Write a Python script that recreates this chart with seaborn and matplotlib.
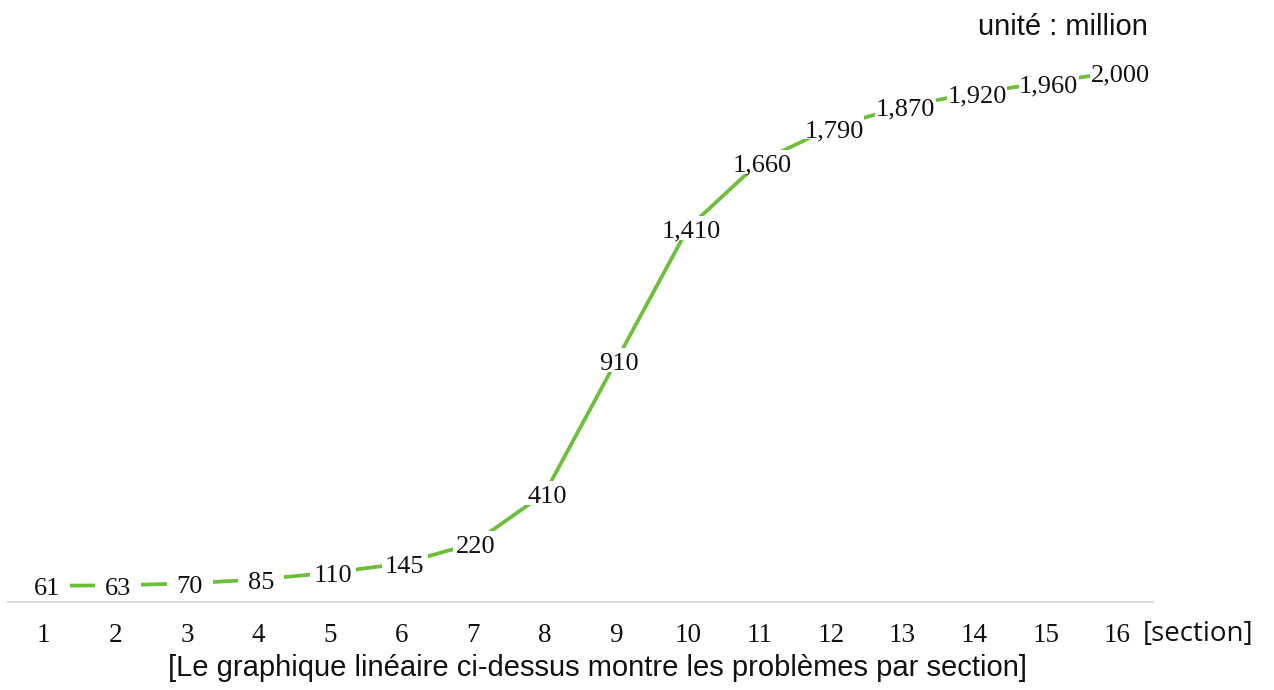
import numpy as np
import pandas as pd
import matplotlib
matplotlib.use("Agg")
import matplotlib.pyplot as plt
import matplotlib.transforms as mtransforms
from matplotlib.patches import Rectangle
import seaborn as sns

# data
sections = list(range(1, 17))
values = [61, 63, 70, 85, 110, 145, 220, 410, 910, 1410, 1660, 1790, 1870, 1920, 1960, 2000]
value_labels = ["61", "63", "70", "85", "110", "145", "220", "410", "910",
                "1,410", "1,660", "1,790", "1,870", "1,920", "1,960", "2,000"]

df = pd.DataFrame({"section": sections, "value": values})

sns.set_theme(style="white")
plt.rcParams['font.family'] = ['Liberation Sans', 'DejaVu Sans']

fig = plt.figure(figsize=(12.74, 6.9), dpi=100)
ax = fig.add_axes([8 / 1274, 1 - 602 / 690, (1153 - 8) / 1274, 0.845])

line_color = "#6CBF38"
sns.lineplot(data=df, x="section", y="value", ax=ax, color=line_color,
             linewidth=2.7, zorder=2)

ax.set_xlim(0.5, 16.5)
ax.set_ylim(0, 2200)

# labels sit a few pixels right of the points, like the original
shifted = mtransforms.offset_copy(ax.transData, fig=fig, x=3, y=-1, units="dots")
texts = []
for x, y, lab in zip(sections, values, value_labels):
    t = ax.text(x, y, lab, ha="center", va="center_baseline", fontsize=19,
                family="Liberation Serif", color="#111111", zorder=5,
                transform=shifted)
    texts.append(t)

# white boxes behind the labels
fig.canvas.draw()
renderer = fig.canvas.get_renderer()
inv = ax.transData.inverted()
for t in texts:
    bb = t.get_window_extent(renderer)
    w = max(bb.width + 1, 46)
    cx = (bb.x0 + bb.x1) / 2
    (x0, y0), (x1, y1) = inv.transform([(cx - w / 2, bb.y0 + 3), (cx + w / 2, bb.y1 + 5)])
    ax.add_patch(Rectangle((x0, y0), x1 - x0, y1 - y0, fc="white", ec="none", zorder=4))

ax.set_xticks(sections)
ax.set_xticklabels([str(s) for s in sections], fontsize=19.5,
                   family="Liberation Serif", color="#111111")
ax.tick_params(axis="x", length=0, pad=15)
ax.set_yticks([])
ax.set_xlabel("")
ax.set_ylabel("")

for side in ["top", "right", "left"]:
    ax.spines[side].set_visible(False)
ax.spines["bottom"].set_color("#D9D9D9")
ax.spines["bottom"].set_linewidth(1.5)
ax.spines["bottom"].set_zorder(1)

fig.text(1148 / 1274, 1 - 27 / 690, "unité : million", ha="right", va="center",
         fontsize=21, color="#111111")
fig.text(1143 / 1274, 1 - 634 / 690, "[section]", ha="left", va="center",
         fontsize=20, family="Open Sans", color="#111111")
fig.text(597 / 1274, 1 - 668 / 690,
         "[Le graphique linéaire ci-dessus montre les problèmes par section]",
         ha="center", va="center", fontsize=21, color="#111111")

fig.savefig("out.png", dpi=100)
